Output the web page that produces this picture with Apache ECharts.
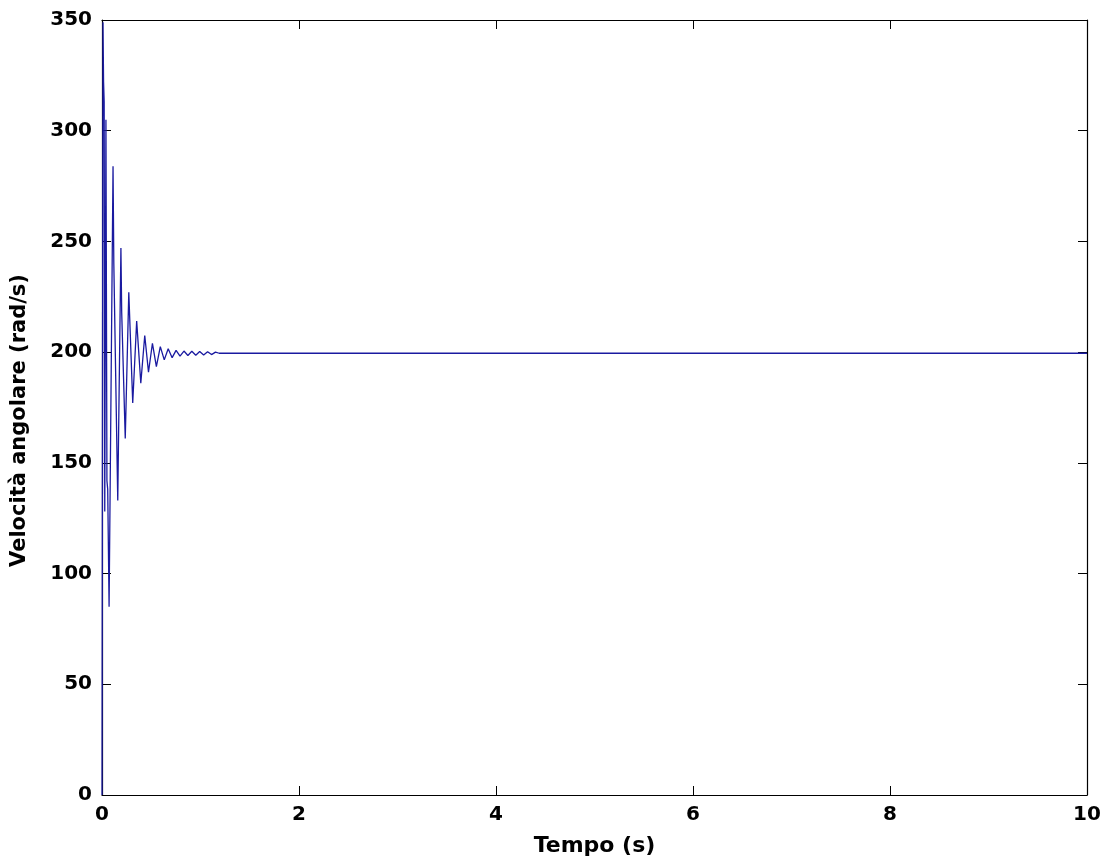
<!DOCTYPE html>
<html>
<head>
<meta charset="utf-8">
<title>Velocità angolare</title>
<script src="https://cdn.jsdelivr.net/npm/echarts@6/dist/echarts.min.js"></script>
<style>
  html, body { margin: 0; padding: 0; background: #fff; }
  #chart { width: 1111px; height: 862px; }
</style>
</head>
<body>
<div id="chart"></div>
<script>
// Time samples (s) of the angular-speed response
const tempo = [
  0.000, 0.010, 0.016, 0.022, 0.028, 0.040, 0.050, 0.058, 0.072,
  0.112, 0.120, 0.160, 0.192, 0.200, 0.236, 0.272, 0.312, 0.352,
  0.394, 0.434, 0.472, 0.512, 0.552, 0.592, 0.632, 0.672, 0.712,
  0.752, 0.792, 0.832, 0.872, 0.912, 0.952, 0.992, 1.032, 1.072,
  1.112, 1.152, 1.190, 10.000
];
// Angular speed (rad/s) at each time sample
const velocita = [
  0, 349, 322, 313, 128, 305, 142, 138, 85,
  284, 240, 133, 247, 218, 161, 227, 177, 214,
  186, 207.5, 191, 204, 193.5, 202.5, 196.5, 201.5, 197.5,
  200.8, 198.2, 200.5, 198.5, 200.4, 198.6, 200.3, 198.7, 200.2,
  198.9, 200.0, 199.5, 199.5
];
const xTicks = { min: 0, max: 10, interval: 2 };
const yTicks = { min: 0, max: 350, interval: 50 };

const serie = tempo.map((t, i) => [t, velocita[i]]);

const font = 'DejaVu Sans';
const tickStyle = { show: true, inside: true, length: 9, lineStyle: { color: '#000', width: 1 } };
// box frame: every axis line stays on the plot edge
const frameLine = { show: true, onZero: false, lineStyle: { color: '#000', width: 1.2 } };

const chart = echarts.init(document.getElementById('chart'), null, { renderer: 'canvas' });
chart.setOption({
  backgroundColor: '#fff',
  animation: false,
  grid: { left: 102, right: 24, top: 20, bottom: 65, containLabel: false },
  xAxis: [
    {
      type: 'value', position: 'bottom', ...xTicks,
      name: 'Tempo (s)', nameLocation: 'middle', nameGap: 40,
      nameTextStyle: { fontFamily: font, fontWeight: 'bold', fontSize: 22, color: '#000' },
      axisLine: frameLine, axisTick: tickStyle,
      axisLabel: { fontFamily: font, fontWeight: 'bold', fontSize: 20, color: '#000', margin: 10 },
      splitLine: { show: false }
    },
    {
      type: 'value', position: 'top', ...xTicks,
      axisLine: frameLine, axisTick: tickStyle,
      axisLabel: { show: false }, splitLine: { show: false }
    }
  ],
  yAxis: [
    {
      type: 'value', position: 'left', ...yTicks,
      name: 'Velocità angolare (rad/s)', nameLocation: 'middle', nameGap: 72,
      nameRotate: 90,
      nameTextStyle: { fontFamily: font, fontWeight: 'bold', fontSize: 21, color: '#000', padding: [0, 26, 0, 0] },
      axisLine: frameLine, axisTick: tickStyle,
      axisLabel: { fontFamily: font, fontWeight: 'bold', fontSize: 20, color: '#000', margin: 10 },
      splitLine: { show: false }
    },
    {
      type: 'value', position: 'right', ...yTicks,
      axisLine: frameLine, axisTick: tickStyle,
      axisLabel: { show: false }, splitLine: { show: false }
    }
  ],
  series: [
    {
      type: 'line',
      data: serie,
      xAxisIndex: 0, yAxisIndex: 0,
      showSymbol: false,
      lineStyle: { color: '#1a1aa0', width: 1.3 },
      clip: true
    }
  ]
});
</script>
</body>
</html>
